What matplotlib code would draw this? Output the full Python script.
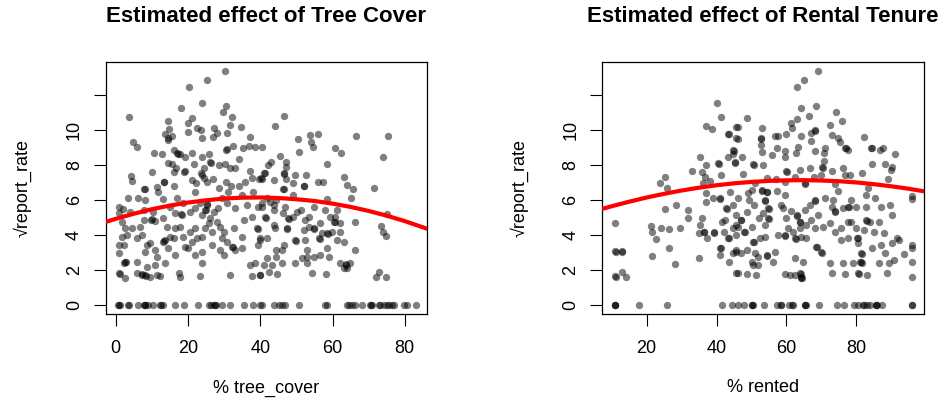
import matplotlib
matplotlib.use("Agg")
import matplotlib.pyplot as plt
import numpy as np

plt.rcParams['font.family'] = ['Liberation Sans', 'DejaVu Sans']

# ---- data ----
# left panel: (tree_cover, sqrt report_rate) for the non-zero points
tree_pts = [
    (30.3, 13.37), (25.4, 12.84), (20.2, 12.46), (23.8, 11.54), (18.0, 11.24), (30.5, 11.35),
    (29.8, 11.01), (3.8, 10.72), (32.3, 10.72), (21.2, 10.67), (20.0, 10.42), (14.6, 10.5),
    (34.6, 10.19), (31.5, 10.27), (22.4, 10.13), (27.3, 10.13), (14.8, 10.06), (20.0, 9.90),
    (23.5, 9.98), (27.9, 9.85), (30.8, 9.85), (13.7, 9.79), (15.6, 9.68), (14.4, 9.52),
    (14.6, 9.45), (26.8, 9.62), (37.3, 9.62), (23.8, 9.52), (4.9, 9.30), (6.0, 9.03),
    (32.5, 9.09), (30.5, 8.84), (30.8, 8.9), (35.1, 8.99), (36.9, 9.09), (38.5, 9.03),
    (40.5, 9.03), (10.7, 8.67), (12.8, 8.61), (16.1, 8.84), (17.0, 8.67), (17.2, 8.6),
    (17.9, 8.65), (19.2, 8.48), (21.1, 8.70), (23.8, 8.44), (25.9, 8.61), (34.2, 8.32),
    (14.4, 8.13), (16.6, 7.85), (15.7, 8.04), (21.8, 8.05), (26.2, 8.19), (26.5, 8.1),
    (24.3, 7.81), (28.5, 7.99), (30.3, 8.04), (31.5, 7.81), (33.1, 7.85), (19.2, 7.66),
    (19.0, 7.6), (10.1, 7.58), (16.1, 7.62), (37.1, 7.66), (4.2, 7.37), (4.4, 7.09),
    (13.5, 7.01), (13.3, 7.05), (16.1, 6.82), (11.4, 6.74), (7.9, 6.63), (8.1, 6.6),
    (21.1, 7.14), (22.2, 6.95), (23.6, 7.52), (23.8, 7.45), (24.4, 7.24), (25.3, 7.01),
    (26.8, 7.20), (28.6, 6.70), (30.6, 7.01), (31.9, 6.82), (34.2, 6.82), (35.7, 7.01),
    (37.7, 7.24), (39.7, 7.20), (40.9, 7.52),
    (46.5, 10.82), (44.0, 10.25), (66.6, 9.64), (75.3, 9.64), (50.5, 9.49), (53.9, 9.71),
    (56.0, 9.77), (54.1, 9.33), (54.5, 9.0), (50.8, 8.72), (60.8, 8.95), (62.4, 8.70),
    (45.6, 8.51), (74.0, 8.44), (43.0, 8.19), (42.1, 8.0), (47.0, 8.19), (47.0, 7.90),
    (58.4, 8.05), (41.4, 7.52), (46.5, 7.52), (46.7, 7.48), (49.7, 7.43), (52.7, 7.43),
    (63.1, 7.30), (40.5, 7.20), (40.3, 7.25), (43.7, 7.14), (47.2, 7.2), (49.2, 6.95),
    (52.0, 6.82), (52.2, 6.78), (55.9, 7.01), (57.5, 7.01), (64.0, 6.86), (65.7, 6.63),
    (71.4, 6.70), (46.5, 6.63), (46.3, 6.6),
    (3.5, 6.10), (11.8, 6.44), (13.2, 6.06), (16.9, 6.1), (18.7, 5.81), (22.0, 6.48),
    (8.1, 6.0), (6.3, 6.1), (0.9, 5.62), (2.1, 5.49), (0.9, 5.24), (3.9, 5.33),
    (7.7, 5.43), (10.4, 5.33), (9.9, 4.86), (10.1, 4.9), (10.9, 4.80), (7.7, 4.86),
    (13.2, 4.95), (15.1, 5.62), (16.4, 5.24), (18.1, 5.19), (18.3, 5.15), (20.6, 5.33),
    (22.0, 5.52), (23.4, 5.81), (24.8, 5.43), (25.0, 5.4), (25.2, 5.71), (25.4, 5.75),
    (23.8, 5.14), (26.1, 4.95), (27.1, 5.33), (28.4, 5.52), (29.4, 6.1), (30.8, 5.81),
    (31.2, 6.48), (33.1, 5.52), (34.9, 6.29), (36.3, 5.71), (38.1, 6.48), (39.5, 5.62),
    (40.5, 5.81), (1.7, 4.76), (2.6, 4.38), (4.4, 4.38), (1.7, 3.90), (3.0, 3.98),
    (2.4, 3.43), (0.9, 3.43), (0.9, 2.95), (2.6, 2.48), (2.4, 2.38), (2.8, 2.45),
    (6.7, 4.48), (7.2, 3.98), (5.8, 3.81), (8.6, 3.43), (8.1, 3.05), (9.5, 3.52),
    (10.9, 3.14), (13.7, 3.71), (13.2, 3.62), (13.5, 3.68), (15.1, 3.9), (16.0, 3.81),
    (14.6, 3.24), (16.4, 2.86), (11.3, 2.76), (14.1, 4.48), (16.4, 4.38), (17.8, 4.48),
    (18.7, 3.9), (19.2, 3.33), (20.1, 3.24), (21.0, 3.62), (22.5, 3.81), (23.8, 3.9),
    (20.6, 4.19), (22.0, 4.38), (24.8, 4.38), (26.6, 4.19), (25.7, 4.67), (28.0, 4.76),
    (28.9, 4.48), (29.4, 3.81), (29.9, 4.19), (30.8, 3.62), (26.6, 3.43), (28.9, 3.14),
    (29.9, 2.86), (23.8, 3.05), (22.0, 2.86), (23.8, 2.38), (32.2, 3.33), (32.4, 3.3),
    (33.1, 3.14), (35.0, 3.24), (32.6, 4.38), (35.4, 4.86), (37.7, 5.05), (39.1, 4.38),
    (39.3, 4.35), (35.0, 3.9), (40.0, 3.81), (39.5, 3.43), (37.2, 2.29), (38.6, 2.38),
    (5.8, 2.48), (8.6, 2.19), (10.9, 2.29), (13.7, 2.38), (0.9, 1.81), (1.1, 1.78),
    (2.6, 1.52), (5.8, 1.81), (7.2, 1.75), (7.4, 1.72), (8.1, 1.71), (8.3, 1.68),
    (9.5, 1.62), (11.3, 1.71), (12.3, 1.68), (17.4, 1.81), (17.8, 1.62), (23.4, 1.66),
    (31.5, 1.71), (37.7, 1.68), (40.0, 1.71),
    (40.5, 5.62), (42.8, 5.90), (41.9, 6.1), (43.9, 5.71), (43.9, 5.43), (46.9, 5.62),
    (46.4, 5.24), (44.4, 6.0), (49.2, 6.29), (49.2, 5.05), (47.8, 4.95), (48.0, 4.92),
    (50.2, 5.33), (51.2, 5.43), (41.7, 4.95), (43.7, 4.57), (41.4, 5.05), (47.3, 4.38),
    (47.5, 4.35), (44.0, 4.38), (54.8, 5.57), (53.4, 5.05), (52.5, 4.86), (53.4, 4.48),
    (54.8, 4.38), (55.0, 4.35), (52.0, 4.29), (58.0, 5.43), (56.6, 4.67), (59.4, 5.05),
    (58.5, 4.1), (58.7, 4.05), (57.1, 4.1), (56.2, 3.81), (56.4, 3.78), (61.3, 5.43),
    (60.8, 5.05), (60.4, 4.76), (60.6, 4.72), (62.2, 4.67), (59.9, 4.19), (62.2, 4.19),
    (63.1, 3.62), (61.3, 3.71), (58.5, 6.06), (65.1, 6.1), (66.3, 4.76), (41.9, 3.81),
    (40.0, 3.71), (49.7, 3.71), (49.9, 3.68), (52.5, 3.71), (46.7, 3.43), (44.4, 3.14),
    (45.9, 3.14), (41.9, 2.67), (41.1, 2.29), (43.2, 2.29), (45.9, 2.38), (44.4, 2.76),
    (49.7, 2.38), (51.6, 2.67), (52.9, 3.14), (52.9, 2.76), (54.8, 2.76), (56.4, 2.86),
    (58.9, 2.76), (58.5, 3.24), (52.9, 2.38), (62.2, 2.38), (63.6, 2.33), (63.8, 2.3),
    (64.8, 2.38), (63.1, 2.1), (64.0, 2.1), (66.3, 3.14), (40.0, 1.71), (42.3, 1.86),
    (44.6, 1.75), (54.3, 1.81), (58.3, 1.75), (75.1, 5.19), (73.5, 4.52), (74.0, 4.19),
    (74.7, 3.96), (72.8, 1.86), (71.9, 1.62), (74.7, 1.62),
]
# left panel: tree_cover of the points sitting at zero
tree_zero_x = [
    0.7, 1.0, 1.2, 3.5, 3.7, 6.3, 7.7, 8.0, 8.2, 9.0, 10.4, 12.3, 12.5, 13.2, 16.4,
    19.0, 22.9, 25.7, 26.5, 27.1, 27.4, 27.7, 29.4, 31.7, 35.6, 38.1, 40.0,
    40.5, 43.7, 45.1, 46.0, 46.9, 50.6, 58.0, 58.5, 64.0, 64.5, 65.4, 66.3, 68.2,
    70.5, 70.7, 70.9, 72.8, 73.2, 74.2, 75.1, 75.5, 76.5, 76.9, 79.7, 80.7, 83.0,
]
# left panel fitted curve
tree_curve_x = [-3, 0, 5, 10, 15, 20, 25, 30, 35, 40, 45, 50, 55, 60, 65, 70, 75, 80, 86.5]
tree_curve_y = [4.73, 4.92, 5.21, 5.47, 5.68, 5.85, 5.98, 6.08, 6.13, 6.14, 6.11, 6.04,
                5.94, 5.79, 5.60, 5.37, 5.10, 4.79, 4.33]

# right panel: (% rented, sqrt report_rate) for the non-zero points
rent_pts = [
    (40.0, 11.52), (41.4, 10.72), (37.1, 10.25), (38.6, 10.06), (45.7, 10.19), (43.3, 9.79),
    (43.5, 9.75), (45.7, 9.52), (44.8, 8.86), (45.0, 8.82), (44.8, 8.61), (43.3, 8.48),
    (45.2, 8.15), (45.4, 8.12), (35.2, 8.48), (37.1, 8.0), (40.5, 8.1), (40.7, 8.05),
    (32.9, 7.68), (35.7, 7.58), (36.7, 7.33), (41.4, 7.43), (38.1, 7.09), (36.2, 6.95),
    (25.2, 7.33), (23.8, 6.95), (25.7, 6.67),
    (69.0, 13.37), (65.0, 12.84), (63.0, 12.46), (64.3, 11.24), (68.4, 11.35), (66.4, 10.82),
    (74.3, 11.01), (75.9, 10.5), (62.9, 10.63), (61.4, 10.42), (48.7, 10.7), (46.0, 10.19),
    (61.6, 10.13), (52.9, 10.13), (72.4, 10.27), (68.1, 9.98), (68.3, 9.95), (67.1, 9.85),
    (56.7, 9.68), (57.6, 9.68), (59.8, 9.77), (64.3, 9.68), (72.9, 9.71), (74.7, 9.52),
    (52.6, 9.52), (52.8, 9.48), (46.0, 9.49), (82.1, 9.62), (67.1, 9.37), (75.2, 9.29),
    (52.6, 9.14), (57.3, 8.99), (63.3, 9.05), (71.0, 8.99), (76.7, 8.99), (76.9, 8.95),
    (77.7, 8.86), (84.3, 8.99), (84.5, 8.95), (87.6, 8.99), (86.7, 8.86), (52.9, 8.72),
    (55.8, 8.57), (59.6, 8.8), (62.7, 8.70), (68.3, 8.8), (70.8, 8.67), (91.2, 8.61),
    (47.2, 8.48), (59.6, 8.48), (70.8, 8.23), (50.5, 8.04), (50.7, 8.0), (53.4, 8.0),
    (66.8, 7.81), (70.3, 7.9), (70.5, 7.85), (76.2, 7.81), (84.6, 8.04), (88.1, 8.04),
    (90.2, 7.87), (90.0, 7.71), (59.9, 7.66), (60.1, 7.62), (63.8, 7.71), (72.9, 7.66),
    (47.6, 7.49), (78.1, 7.43), (81.5, 7.52), (54.3, 7.28), (57.1, 7.2), (62.4, 7.33),
    (67.9, 7.33), (70.0, 7.43), (76.7, 7.43), (51.0, 6.95), (59.6, 7.05), (65.2, 6.95),
    (65.4, 6.9), (73.8, 6.9), (89.0, 7.2), (83.3, 6.67), (82.9, 6.29), (96.0, 6.23),
    (96.0, 6.04),
    (25.2, 5.49), (28.5, 5.71), (31.9, 5.43), (31.9, 4.95), (37.1, 6.38), (37.1, 5.90),
    (39.0, 6.1), (40.9, 6.1), (41.1, 6.05), (42.8, 5.52), (43.0, 5.48), (44.7, 5.71),
    (45.7, 5.14), (43.8, 6.48), (10.9, 4.70), (21.2, 4.53), (21.4, 4.19), (24.2, 4.38),
    (26.4, 4.32), (22.6, 3.77), (29.6, 4.42), (35.8, 4.95), (35.3, 4.57), (36.3, 4.19),
    (36.5, 4.15), (34.9, 4.1), (37.3, 3.81), (39.2, 4.15), (39.4, 4.1), (41.6, 4.76),
    (42.5, 4.86), (42.0, 4.19), (43.4, 3.85), (43.6, 3.8), (44.8, 4.38), (45.7, 4.57),
    (45.7, 4.0), (10.9, 3.09), (11.1, 3.05), (12.8, 3.09), (13.0, 3.05), (21.4, 2.80),
    (26.4, 3.24), (28.1, 2.36), (35.0, 2.70), (41.1, 3.28), (41.3, 3.25), (41.1, 2.86),
    (43.6, 2.48), (44.8, 2.95), (45.7, 3.14), (45.7, 1.81), (10.9, 1.66), (11.1, 1.62),
    (12.8, 1.86), (14.0, 1.6),
    (46.2, 6.1), (48.9, 6.38), (50.0, 6.57), (52.9, 6.57), (53.1, 6.52), (54.3, 6.48),
    (54.5, 6.45), (53.8, 6.0), (54.0, 5.96), (54.8, 5.52), (55.0, 5.48), (54.8, 4.95),
    (55.0, 4.92), (53.4, 5.24), (50.7, 5.71), (49.3, 6.0), (48.8, 5.33), (46.9, 4.86),
    (47.1, 4.83), (46.0, 4.48), (47.8, 4.19), (48.0, 4.15), (50.1, 4.48), (52.0, 4.95),
    (53.9, 4.57), (52.4, 3.81), (53.9, 3.9), (50.5, 3.62), (50.7, 3.58), (48.8, 3.14),
    (46.9, 2.95), (45.5, 3.05), (51.0, 2.95), (51.9, 2.76), (54.3, 2.86), (54.5, 2.82),
    (56.7, 3.05), (56.2, 2.48), (50.0, 2.48), (50.5, 2.29), (51.9, 2.29), (46.0, 1.81),
    (48.8, 1.75), (51.3, 1.71), (57.4, 6.51), (59.5, 6.29), (68.1, 6.0), (68.3, 5.95),
    (70.9, 6.1), (73.3, 6.0), (74.8, 6.51), (72.9, 5.62), (73.8, 5.37), (74.0, 5.33),
    (76.2, 5.52), (77.6, 5.62), (77.8, 5.58), (78.6, 6.0), (80.0, 5.62), (82.9, 5.57),
    (85.3, 6.1), (87.1, 5.57), (89.5, 5.71), (58.5, 5.71), (59.0, 5.52), (61.4, 5.37),
    (62.9, 5.14), (63.1, 5.1), (65.2, 5.43), (66.6, 5.71), (63.8, 4.76), (64.0, 4.72),
    (63.8, 4.38), (65.7, 4.57), (67.1, 4.86), (69.0, 5.14), (60.0, 4.95), (60.5, 4.38),
    (59.5, 4.0), (59.7, 3.96), (57.6, 4.0), (62.0, 4.19), (62.4, 3.81), (62.6, 3.78),
    (64.3, 3.9), (65.7, 3.81), (68.1, 4.38), (70.5, 4.48), (72.4, 4.67), (73.8, 4.19),
    (75.7, 4.38), (77.6, 4.76), (78.6, 4.76), (80.0, 4.38), (77.6, 3.81), (75.7, 3.71),
    (80.2, 3.85), (80.4, 3.8), (80.4, 3.52), (82.9, 4.86), (83.1, 4.82), (83.8, 4.76),
    (82.2, 4.29), (85.0, 4.19), (86.4, 4.76), (87.8, 4.1), (90.2, 5.14), (91.6, 3.81),
    (90.2, 3.52), (84.5, 3.24), (87.1, 3.43), (68.4, 3.33), (68.6, 3.3), (69.9, 3.05),
    (70.3, 2.95), (62.4, 2.67), (64.7, 2.43), (64.0, 1.81), (64.2, 1.78), (64.3, 1.56),
    (64.5, 1.53), (64.1, 1.6), (59.5, 1.75), (60.9, 1.71), (62.4, 1.71), (72.6, 2.38),
    (73.0, 1.81), (76.2, 2.38), (76.7, 1.75), (79.1, 2.38), (81.3, 2.95), (81.5, 2.92),
    (81.3, 2.43), (81.5, 2.4), (81.1, 2.46), (80.6, 1.81), (80.8, 1.78), (83.0, 1.71),
    (86.4, 2.38), (88.8, 1.81), (89.3, 2.38), (90.7, 2.57), (92.1, 3.71), (93.7, 2.9),
    (88.1, 2.95), (96.0, 3.43), (96.0, 3.24), (96.0, 2.48), (96.0, 1.62),
]
# right panel: % rented of the points sitting at zero
rent_zero_x = [
    10.9, 10.9, 10.9, 17.7, 25.8, 41.6, 44.3, 46.0, 47.8, 50.2, 50.2, 50.4, 53.5,
    57.4, 58.3, 58.5, 60.7, 61.6, 61.8, 65.4, 65.4, 65.6, 69.2, 74.4, 76.6, 79.2,
    80.6, 82.0, 82.2, 83.0, 83.9, 85.6, 85.6, 85.8, 87.3, 96.0, 96.0,
]
# right panel fitted curve
rent_curve_x = [7, 10, 15, 20, 25, 30, 35, 40, 45, 50, 55, 60, 65, 70, 75, 80, 85, 90, 95, 100]
rent_curve_y = [5.47, 5.64, 5.90, 6.14, 6.35, 6.54, 6.70, 6.84, 6.95, 7.03, 7.09, 7.12,
                7.13, 7.11, 7.07, 7.00, 6.90, 6.78, 6.64, 6.47]

yticks = [0, 2, 4, 6, 8, 10, 12]
ytick_labels = ['0', '2', '4', '6', '8', '10', '']

W, H = 946, 413
fig = plt.figure(figsize=(W / 100, H / 100), dpi=100)

panels = [
    dict(left=105.7, pts=tree_pts, zero=tree_zero_x, cx=tree_curve_x, cy=tree_curve_y,
         xlim=(-2.77, 86.2), xticks=[0, 20, 40, 60, 80],
         title='Estimated effect of Tree Cover', xlabel='% tree_cover'),
    dict(left=602.3, pts=rent_pts, zero=rent_zero_x, cx=rent_curve_x, cy=rent_curve_y,
         xlim=(7.3, 99.3), xticks=[20, 40, 60, 80],
         title='Estimated effect of Rental Tenure', xlabel='% rented'),
]

top, bottom, width = 61.7, 313.5, 321.5
for p in panels:
    ax = fig.add_axes([p['left'] / W, 1 - bottom / H, width / W, (bottom - top) / H])
    pts = np.array(p['pts'])
    zx = np.array(p['zero'])
    ax.scatter(pts[:, 0], pts[:, 1], s=28, color=(0, 0, 0, 0.5), linewidths=0, zorder=2)
    ax.scatter(zx, np.zeros_like(zx), s=28, color=(0, 0, 0, 0.5), linewidths=0, zorder=2)
    ax.plot(p['cx'], p['cy'], color='red', lw=3, zorder=3, solid_capstyle='butt')
    ax.set_xlim(*p['xlim'])
    ax.set_ylim(-0.49, 13.9)
    ax.set_xticks(p['xticks'])
    ax.set_yticks(yticks)
    ax.set_yticklabels(ytick_labels, rotation=90, va='center')
    ax.tick_params(direction='out', length=8.4, width=0.8, labelsize=13)
    ax.tick_params(axis='x', pad=11)
    ax.tick_params(axis='y', pad=8)
    for s in ax.spines.values():
        s.set_linewidth(0.9)
    cx = (p['left'] + width / 2) / W
    fig.text(cx, 1 - 16 / H, p['title'], ha='center', va='center',
             fontsize=16, fontweight='bold')
    fig.text(cx, 1 - 388 / H, p['xlabel'], ha='center', va='center', fontsize=13)
    fig.text((p['left'] - 83) / W, 1 - (top + bottom) / 2 / H, '√report_rate',
             ha='center', va='center', rotation=90, fontsize=13)

fig.savefig('out.png', dpi=100)
